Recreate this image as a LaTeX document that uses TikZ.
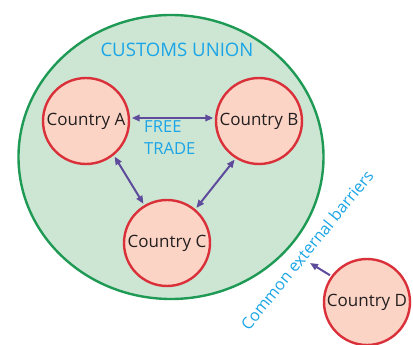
\documentclass[tikz,border=0pt]{standalone}
\usepackage{fontspec}
\setmainfont{Open Sans}
\usetikzlibrary{arrows.meta,shapes.geometric}
\definecolor{cuGreen}{HTML}{1E9A55}
\definecolor{cuFill}{HTML}{CDE6D4}
\definecolor{ctyRed}{HTML}{D9303A}
\definecolor{ctyFill}{HTML}{FCD4C5}
\definecolor{lblCyan}{HTML}{1BA5E6}
\definecolor{arrPurple}{HTML}{5E4B9C}
\definecolor{txtDark}{HTML}{231F20}
\tikzset{
  country/.style={circle, draw=ctyRed, fill=ctyFill, line width=2.4pt, minimum size=86pt, inner sep=0pt,
    text=txtDark, font=\fontsize{17}{20}\selectfont},
  tradearrow/.style={draw=arrPurple, line width=2pt, {Triangle[length=8pt,width=6.5pt]}-{Triangle[length=8pt,width=6.5pt]}, shorten <=1.5pt, shorten >=1.5pt},
  barrierarrow/.style={draw=arrPurple, line width=2pt, -{Triangle[length=8pt,width=6.5pt]}, shorten <=1.5pt},
  cyanlabel/.style={text=lblCyan, inner sep=0pt}
}
\begin{document}
\begin{tikzpicture}[x=1pt,y=-1pt]
\useasboundingbox (0,0) rectangle (413,345);
\node[draw=cuGreen, fill=cuFill, line width=2.4pt, ellipse, minimum width=305pt, minimum height=284pt, inner sep=0pt] (cu) at (171,157) {};
\node[cyanlabel, font=\fontsize{18.6}{22}\selectfont, anchor=base] (cutext) at (177,57) {CUSTOMS UNION};
\node[cyanlabel, font=\fontsize{16.6}{21}\selectfont, align=left, anchor=base west] (ft) at (144,154) {FREE\\TRADE};
\node[country] (A) at (86,121) {Country A};
\node[country] (B) at (259,121) {Country B};
\node[country] (C) at (167,243) {Country C};
\node[country] (D) at (367,302) {Country D};
\draw[tradearrow] ([yshift=3pt]A.east) -- ([yshift=3pt]B.west);
\draw[tradearrow] (A.-51) -- (C.121);
\draw[tradearrow] (B.-122) -- (C.50);
\coordinate (barrier) at (310,263);
\draw[barrierarrow] (D.144) -- (barrier);
\node[cyanlabel, font=\fontsize{16.2}{20}\selectfont, rotate=51] (ceb) at (307,250) {Common external barriers};
\end{tikzpicture}
\end{document}
